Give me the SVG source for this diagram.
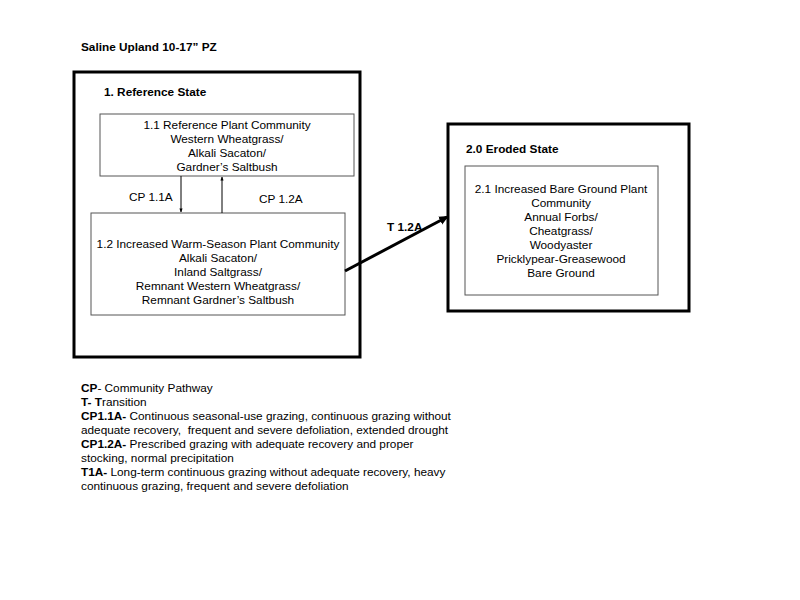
<svg xmlns="http://www.w3.org/2000/svg" width="800" height="600" viewBox="0 0 800 600">
<style>
text{font-family:"Liberation Sans",Arial,sans-serif;fill:#000}
.t{font-size:11.8px}
.b{font-weight:bold}
.c{text-anchor:middle}
.state{fill:none;stroke:#000;stroke-width:3}
.comm{fill:#fff;stroke:#555;stroke-width:1}
</style>
<defs>
<marker id="ah" viewBox="0 0 10 10" refX="8" refY="5" markerWidth="3.2" markerHeight="3.2" orient="auto"><path d="M0,0.5 L10,5 L0,9.5 z" fill="#000"/></marker>
<marker id="ahs" viewBox="0 0 10 10" refX="9" refY="5" markerWidth="4" markerHeight="4" orient="auto"><path d="M0,1 L10,5 L0,9 z" fill="#000"/></marker>
</defs>
<rect width="800" height="600" fill="#fff"/>
<text x="81" y="51" class="t b">Saline Upland 10-17” PZ</text>
<g id="state1">
<rect x="74" y="72" width="286" height="285" class="state"/>
<text x="104" y="96" class="t b">1. Reference State</text>
</g>
<g id="comm11">
<rect x="100" y="114" width="254" height="62" class="comm"/>
<text class="t c" x="227"><tspan x="227" y="129">1.1 Reference Plant Community</tspan><tspan x="227" y="143">Western Wheatgrass/</tspan><tspan x="227" y="157">Alkali Sacaton/</tspan><tspan x="227" y="171">Gardner’s Saltbush</tspan></text>
</g>
<g id="comm12">
<rect x="91" y="213" width="254" height="102" class="comm"/>
<text class="t c" x="218"><tspan x="218" y="248">1.2 Increased Warm-Season Plant Community</tspan><tspan x="218" y="262">Alkali Sacaton/</tspan><tspan x="218" y="276">Inland Saltgrass/</tspan><tspan x="218" y="290">Remnant Western Wheatgrass/</tspan><tspan x="218" y="304">Remnant Gardner’s Saltbush</tspan></text>
</g>
<g id="state2">
<rect x="448" y="124" width="241" height="187" class="state"/>
<text x="466" y="153" class="t b">2.0 Eroded State</text>
</g>
<g id="comm21">
<rect x="465" y="166" width="193" height="129" class="comm"/>
<text class="t c" x="561"><tspan x="561" y="193">2.1 Increased Bare Ground Plant</tspan><tspan x="561" y="207">Community</tspan><tspan x="561" y="221">Annual Forbs/</tspan><tspan x="561" y="235">Cheatgrass/</tspan><tspan x="561" y="249">Woodyaster</tspan><tspan x="561" y="263">Pricklypear-Greasewood</tspan><tspan x="561" y="277">Bare Ground</tspan></text>
</g>
<g id="connectors">
<line x1="181" y1="176" x2="181" y2="212" stroke="#000" stroke-width="1" marker-end="url(#ahs)"/>
<line x1="222" y1="213" x2="222" y2="177" stroke="#000" stroke-width="1" marker-end="url(#ahs)"/>
<line x1="345" y1="271" x2="447" y2="217" stroke="#000" stroke-width="3" marker-end="url(#ah)"/>
<text x="129" y="201" class="t">CP 1.1A</text>
<text x="259" y="203" class="t">CP 1.2A</text>
<text x="387" y="231" class="t b">T 1.2A</text>
</g>
<g id="legend">
<text x="81" y="392" class="t"><tspan class="b">CP</tspan>- Community Pathway</text>
<text x="81" y="406" class="t"><tspan class="b">T- T</tspan>ransition</text>
<text x="81" y="420" class="t"><tspan class="b">CP1.1A-</tspan> Continuous seasonal-use grazing, continuous grazing without</text>
<text x="81" y="434" class="t" xml:space="preserve">adequate recovery,  frequent and severe defoliation, extended drought</text>
<text x="81" y="448" class="t"><tspan class="b">CP1.2A-</tspan> Prescribed grazing with adequate recovery and proper</text>
<text x="81" y="462" class="t">stocking, normal precipitation</text>
<text x="81" y="476" class="t"><tspan class="b">T1A-</tspan> Long-term continuous grazing without adequate recovery, heavy</text>
<text x="81" y="490" class="t">continuous grazing, frequent and severe defoliation</text>
</g>
</svg>
